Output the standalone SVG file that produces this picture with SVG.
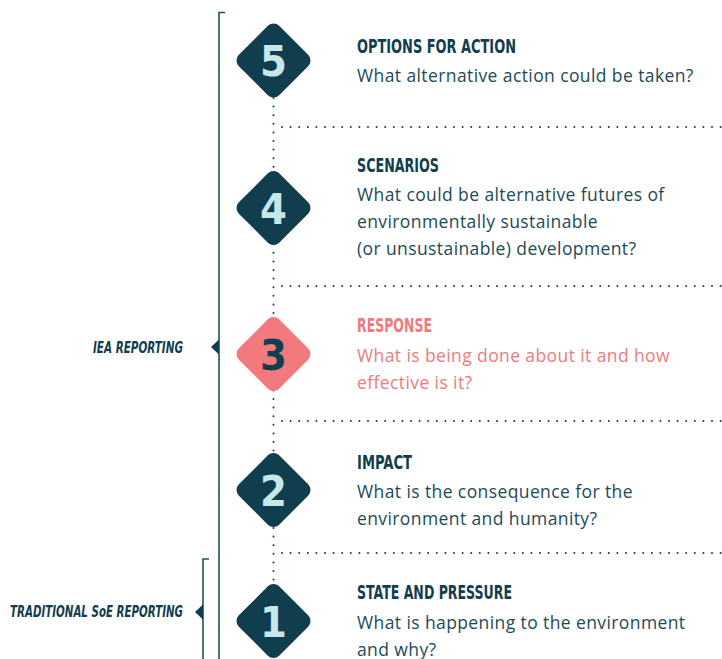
<svg xmlns="http://www.w3.org/2000/svg" width="722" height="659" viewBox="0 0 722 659">
<style>
.bg{fill:#ffffff}
.dia{fill:#113e4f}
.dia.pink{fill:#f27a7c}
.num{font-family:"DejaVu Sans Condensed","DejaVu Sans",sans-serif;font-weight:bold;font-size:43px;fill:#c8e7eb;text-anchor:middle}
.num.dark{fill:#113e4f}
.title{font-family:"DejaVu Sans Condensed","DejaVu Sans",sans-serif;font-weight:bold;font-size:19px;fill:#113e4f}
.body{font-family:"Open Sans","Noto Sans",sans-serif;font-size:17.5px;letter-spacing:0.4px;fill:#1d4a5a}
.pinkt{fill:#f27a7c}
.side{font-family:"DejaVu Sans Condensed","DejaVu Sans",sans-serif;font-weight:bold;font-style:italic;font-size:16px;fill:#113e4f;text-anchor:end}
.bracket{fill:none;stroke:#1f4f5f;stroke-width:1.6}
.dots{fill:none;stroke:#113e4f;stroke-width:2;stroke-linecap:round;stroke-dasharray:0 8.6}
</style>
<rect class="bg" x="0" y="0" width="722" height="659"/>
<g id="connectors">
<line class="dots" x1="273.5" y1="98" x2="273.5" y2="586"/>
<line class="dots" x1="282" y1="127" x2="722" y2="127"/>
<line class="dots" x1="282" y1="286" x2="722" y2="286"/>
<line class="dots" x1="282" y1="421" x2="722" y2="421"/>
<line class="dots" x1="282" y1="553" x2="722" y2="553"/>
</g>
<g id="iea-bracket">
<path class="bracket" d="M225 12.5 H219 V659"/>
<polygon fill="#113e4f" points="211,347 219,339.5 219,354.5"/>
<text class="side" x="183" y="352.5" textLength="90" lengthAdjust="spacingAndGlyphs">IEA REPORTING</text>
</g>
<g id="soe-bracket">
<path class="bracket" d="M209 559 H203 V659"/>
<polygon fill="#113e4f" points="195,612 203,604.5 203,619.5"/>
<text class="side" x="183" y="616.5" textLength="173" lengthAdjust="spacingAndGlyphs">TRADITIONAL SoE REPORTING</text>
</g>
<g id="node5">
<rect class="dia" x="245" y="32" width="57" height="57" rx="8" transform="rotate(45 273.5 60.5)"/>
<text class="num" x="273.5" y="76">5</text>
<text class="title" x="357" y="52.5" textLength="159" lengthAdjust="spacingAndGlyphs">OPTIONS FOR ACTION</text>
<text class="body" x="357" y="81.5">What alternative action could be taken?</text>
</g>
<g id="node4">
<rect class="dia" x="245" y="179.5" width="57" height="57" rx="8" transform="rotate(45 273.5 208)"/>
<text class="num" x="273.5" y="223.5">4</text>
<text class="title" x="357" y="172" textLength="82" lengthAdjust="spacingAndGlyphs">SCENARIOS</text>
<text class="body" x="357" y="200.5">What could be alternative futures of</text>
<text class="body" x="357" y="227.5">environmentally sustainable</text>
<text class="body" x="357" y="255">(or unsustainable) development?</text>
</g>
<g id="node3">
<rect class="dia pink" x="245" y="325.5" width="57" height="57" rx="8" transform="rotate(45 273.5 354)"/>
<text class="num dark" x="273.5" y="369.5">3</text>
<text class="title pinkt" x="357" y="332" textLength="75" lengthAdjust="spacingAndGlyphs">RESPONSE</text>
<text class="body pinkt" x="357" y="362">What is being done about it and how</text>
<text class="body pinkt" x="357" y="389">effective is it?</text>
</g>
<g id="node2">
<rect class="dia" x="245" y="461.5" width="57" height="57" rx="8" transform="rotate(45 273.5 490)"/>
<text class="num" x="273.5" y="505.5">2</text>
<text class="title" x="357" y="468.5" textLength="55" lengthAdjust="spacingAndGlyphs">IMPACT</text>
<text class="body" x="357" y="497.5">What is the consequence for the</text>
<text class="body" x="357" y="525">environment and humanity?</text>
</g>
<g id="node1">
<rect class="dia" x="245" y="592.5" width="57" height="57" rx="8" transform="rotate(45 273.5 621)"/>
<text class="num" x="273.5" y="636.5">1</text>
<text class="title" x="357" y="598.5" textLength="155" lengthAdjust="spacingAndGlyphs">STATE AND PRESSURE</text>
<text class="body" x="357" y="628.5">What is happening to the environment</text>
<text class="body" x="357" y="655.5">and why?</text>
</g>
</svg>
